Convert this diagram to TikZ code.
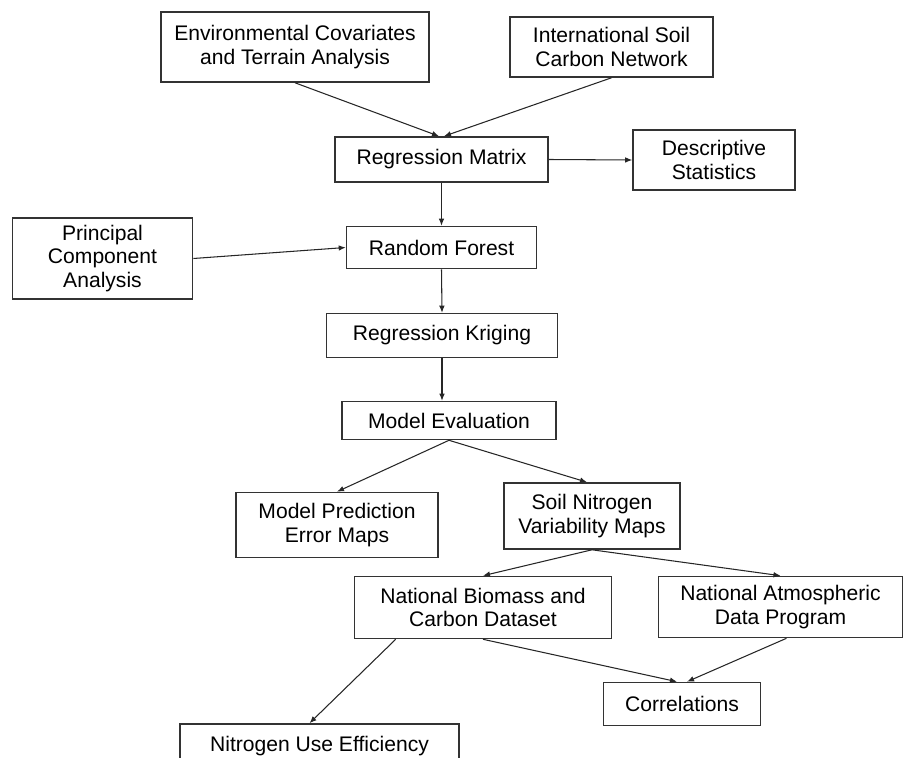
\documentclass[tikz,border=0pt]{standalone}
\usepackage{fontspec}
\setmainfont{Liberation Sans}
\usetikzlibrary{arrows.meta,calc}

\begin{document}
\begin{tikzpicture}

% Flow style
\tikzset{
    box/.style={draw=black!80, line width=0.9pt, align=center, inner sep=0pt,
        font=\fontsize{12}{13.6}\selectfont},
    flow/.style={draw=black!85, line width=0.6pt, -{Latex[length=4pt,width=3.2pt]}}
}
\useasboundingbox (0,0) rectangle (18.06,-15.16);
\clip (0,0) rectangle (18.06,-15.16);

\node[box, minimum width=5.36cm, minimum height=1.40cm] (ENV) at (5.90,-0.94) {Environmental Covariates\\and Terrain Analysis};
\node[box, minimum width=4.06cm, minimum height=1.20cm] (ISCN) at (12.23,-0.94) {International Soil\\Carbon Network};
\node[box, minimum width=4.26cm, minimum height=0.90cm] (RM) at (8.83,-3.19) {Regression Matrix};
\node[box, minimum width=3.24cm, minimum height=1.20cm] (DS) at (14.28,-3.20) {Descriptive\\Statistics};
\node[box, minimum width=3.60cm, minimum height=1.62cm] (PCA) at (2.05,-5.17) {Principal\\Component\\Analysis};
\node[box, minimum width=3.80cm, minimum height=0.84cm] (RF) at (8.83,-4.95) {Random Forest};
\node[box, minimum width=4.62cm, minimum height=0.88cm] (RK) at (8.84,-6.71) {Regression Kriging};
\node[box, minimum width=4.28cm, minimum height=0.76cm] (ME) at (8.98,-8.41) {Model Evaluation};
\node[box, minimum width=4.04cm, minimum height=1.30cm] (MPEM) at (6.74,-10.50) {Model Prediction\\Error Maps};
\node[box, minimum width=3.52cm, minimum height=1.32cm] (SNVM) at (11.84,-10.32) {Soil Nitrogen\\Variability Maps};
\node[box, minimum width=5.14cm, minimum height=1.24cm] (NBCD) at (9.66,-12.15) {National Biomass and\\Carbon Dataset};
\node[box, minimum width=4.88cm, minimum height=1.22cm] (NADP) at (15.61,-12.14) {National Atmospheric\\Data Program};
\node[box, minimum width=3.14cm, minimum height=0.86cm] (CORR) at (13.64,-14.08) {Correlations};
\node[box, minimum width=5.58cm, minimum height=0.88cm] (NUE) at (6.39,-14.92) {Nitrogen Use Efficiency};

% Top of the flow
\draw[flow] (ENV.south) -- ([xshift=-0.5mm]RM.north);
\draw[flow] (ISCN.south) -- ([xshift=0.5mm]RM.north);
\draw[flow] (RM.east) -- (DS.west);
\draw[flow] (RM.south) -- (RF.north);
\draw[flow] (PCA.east) -- (RF.west);
\draw[flow] (RF.south) -- (RK.north);
\draw[flow] (RK.south) -- (RK.south |- ME.north);

% Maps
\draw[flow] (ME.south) -- (MPEM.north);
\draw[flow] (ME.south) -- ([xshift=-1mm]SNVM.north);
\draw[flow] (SNVM.south) -- (NBCD.north);
\draw[flow] (SNVM.south) -- (NADP.north);

% Bottom
\draw[flow] (NBCD.south) -- ([xshift=-1mm]CORR.north);
\draw[flow] ([xshift=1.2mm]NADP.south) -- ([xshift=1mm]CORR.north);
\draw[flow] ($(NBCD.south west)+(0.84,0)$) -- ([xshift=-2mm]NUE.north);

\end{tikzpicture}
\end{document}
